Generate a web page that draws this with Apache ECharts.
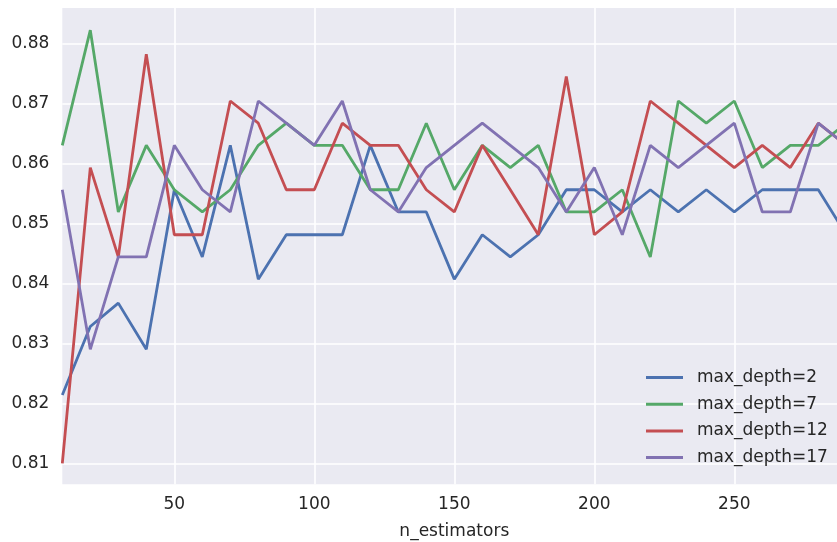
<!DOCTYPE html>
<html>
<head>
<meta charset="utf-8">
<script src="https://cdn.jsdelivr.net/npm/echarts@6/dist/echarts.min.js"></script>
<style>
  html, body { margin: 0; padding: 0; background: #fff; }
  #main { width: 837px; height: 542px; }
</style>
</head>
<body>
<div id="main"></div>
<script>
// n_estimators on the x axis
var nEstimators = [10, 20, 30, 40, 50, 60, 70, 80, 90, 100, 110, 120, 130, 140, 150,
                   160, 170, 180, 190, 200, 210, 220, 230, 240, 250, 260, 270, 280, 290];
// scores for each max_depth
var depth2  = [0.8214, 0.8328, 0.8367, 0.8290, 0.8556, 0.8444, 0.8630, 0.8407, 0.8481, 0.8481,
               0.8481, 0.8630, 0.8519, 0.8519, 0.8407, 0.8481, 0.8444, 0.8481, 0.8556, 0.8556,
               0.8519, 0.8556, 0.8519, 0.8556, 0.8519, 0.8556, 0.8556, 0.8556, 0.8481];
var depth7  = [0.8630, 0.8822, 0.8519, 0.8630, 0.8556, 0.8519, 0.8556, 0.8630, 0.8667, 0.8630,
               0.8630, 0.8556, 0.8556, 0.8667, 0.8556, 0.8630, 0.8593, 0.8630, 0.8519, 0.8519,
               0.8556, 0.8444, 0.8704, 0.8667, 0.8704, 0.8593, 0.8630, 0.8630, 0.8667];
var depth12 = [0.8100, 0.8593, 0.8444, 0.8782, 0.8481, 0.8481, 0.8704, 0.8667, 0.8556, 0.8556,
               0.8667, 0.8630, 0.8630, 0.8556, 0.8519, 0.8630, 0.8556, 0.8481, 0.8745, 0.8481,
               0.8519, 0.8704, 0.8667, 0.8630, 0.8593, 0.8630, 0.8593, 0.8667, 0.8630];
var depth17 = [0.8556, 0.8290, 0.8444, 0.8444, 0.8630, 0.8556, 0.8519, 0.8704, 0.8667, 0.8630,
               0.8704, 0.8556, 0.8519, 0.8593, 0.8630, 0.8667, 0.8630, 0.8593, 0.8519, 0.8593,
               0.8481, 0.8630, 0.8593, 0.8630, 0.8667, 0.8519, 0.8519, 0.8667, 0.8630];
var xTicks = [50, 100, 150, 200, 250];
var yTicks = [0.81, 0.82, 0.83, 0.84, 0.85, 0.86, 0.87, 0.88];
var seriesNames = ['max_depth=2', 'max_depth=7', 'max_depth=12', 'max_depth=17'];
var colors = ['#4C72B0', '#55A868', '#C44E52', '#8172B2'];

function pairs(ys) {
  var out = [];
  for (var i = 0; i < nEstimators.length; i++) {
    out.push([nEstimators[i], ys[i]]);
  }
  return out;
}

var FONT = 'DejaVu Sans';
var TXT = '#262626';

var myChart = echarts.init(document.getElementById('main'));
var option = {
  animation: false,
  color: colors,
  grid: {
    left: 62.3,
    right: -9.3,
    top: 8,
    bottom: 57.7,
    outerBoundsMode: 'none',
    containLabel: false,
    show: true,
    backgroundColor: '#EAEAF2',
    borderWidth: 0
  },
  legend: {
    orient: 'vertical',
    left: 646,
    top: 369,
    padding: 0,
    itemGap: 9.7,
    itemWidth: 37,
    itemHeight: 3,
    icon: 'rect',
    data: seriesNames,
    textStyle: {
      fontFamily: FONT,
      fontSize: 17,
      color: TXT,
      lineHeight: 17,
      padding: [0, 0, 0, 9]
    }
  },
  xAxis: {
    type: 'value',
    min: 10,
    max: 290,
    name: 'n_estimators',
    nameLocation: 'middle',
    nameGap: 39,
    nameTextStyle: { fontFamily: FONT, fontSize: 17, color: TXT },
    axisLine: { show: false },
    axisTick: { show: false, customValues: xTicks },
    axisLabel: {
      customValues: xTicks,
      margin: 12,
      fontFamily: FONT,
      fontSize: 17,
      color: TXT
    },
    splitLine: { show: true, lineStyle: { color: '#ffffff', width: 1.6 } }
  },
  yAxis: {
    type: 'value',
    min: 0.8065,
    max: 0.8859,
    axisLine: { show: false },
    axisTick: { show: false, customValues: yTicks },
    axisLabel: {
      customValues: yTicks,
      margin: 13,
      fontFamily: FONT,
      fontSize: 17,
      color: TXT,
      formatter: function (v) { return v.toFixed(2); }
    },
    splitLine: { show: true, lineStyle: { color: '#ffffff', width: 1.6 } }
  },
  series: [
    { name: seriesNames[0], type: 'line', data: pairs(depth2) },
    { name: seriesNames[1], type: 'line', data: pairs(depth7) },
    { name: seriesNames[2], type: 'line', data: pairs(depth12) },
    { name: seriesNames[3], type: 'line', data: pairs(depth17) }
  ].map(function (s) {
    s.symbol = 'none';
    s.lineStyle = { width: 2.8 };
    s.clip = true;
    return s;
  })
};
myChart.setOption(option);
</script>
</body>
</html>
